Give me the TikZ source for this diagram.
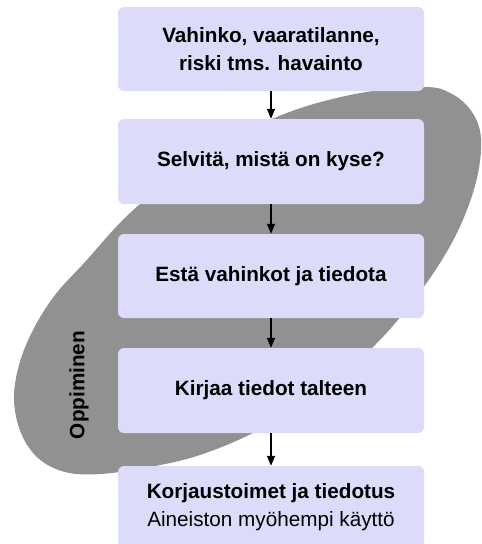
\documentclass[tikz,border=0pt]{standalone}
\usepackage{fontspec}
\setmainfont{Liberation Sans}
\usetikzlibrary{arrows.meta}
\definecolor{boxfill}{RGB}{220,220,250}
\definecolor{blobgrey}{RGB}{145,145,145}
\begin{document}
\begin{tikzpicture}[x=1pt,y=-1pt,
  stepbox/.style={fill=boxfill, rounded corners=6pt, minimum width=306pt, minimum height=84pt,
    inner sep=0pt, align=center, font=\fontsize{20.7}{28.5}\selectfont\bfseries},
  flow/.style={line width=1.2pt, -{Triangle[length=10pt,width=8pt]}}]
\useasboundingbox (0,0) rectangle (482,544);
\clip (0,0) rectangle (482,544);
\fill[blobgrey] plot[smooth cycle, tension=0.6] coordinates {
  (423,87) (452,94) (472,112) (481,138) (477,178) (462,222) (440,263) (410,305)
  (375,345) (320,395) (255,432) (200,455) (150,467) (100,474) (65,472) (38,458)
  (21,433) (14,400) (19,365) (33,330) (55,295) (85,262) (130,213) (190,165)
  (272,119) (350,95)};
\node[rotate=90, font=\fontsize{20.7}{24}\selectfont\bfseries] (learn) at (79,385) {Oppiminen};
\node[stepbox] (s1) at (271,49) {Vahinko, vaaratilanne,\\ riski tms. havainto};
\node[stepbox, minimum height=85pt] (s2) at (271,161.5) {Selvitä, mistä on kyse?};
\node[stepbox] (s3) at (271,276) {Estä vahinkot ja tiedota};
\node[stepbox, minimum height=85pt] (s4) at (271,390.5) {Kirjaa tiedot talteen};
\node[stepbox, minimum height=82pt] (s5) at (271,507) {Korjaustoimet ja tiedotus\\{\mdseries Aineiston myöhempi käyttö}};
\draw[flow] (s1) -- (s2);
\draw[flow] (s2) -- (s3);
\draw[flow] (s3) -- (s4);
\draw[flow] (s4) -- (s5);
\end{tikzpicture}
\end{document}
